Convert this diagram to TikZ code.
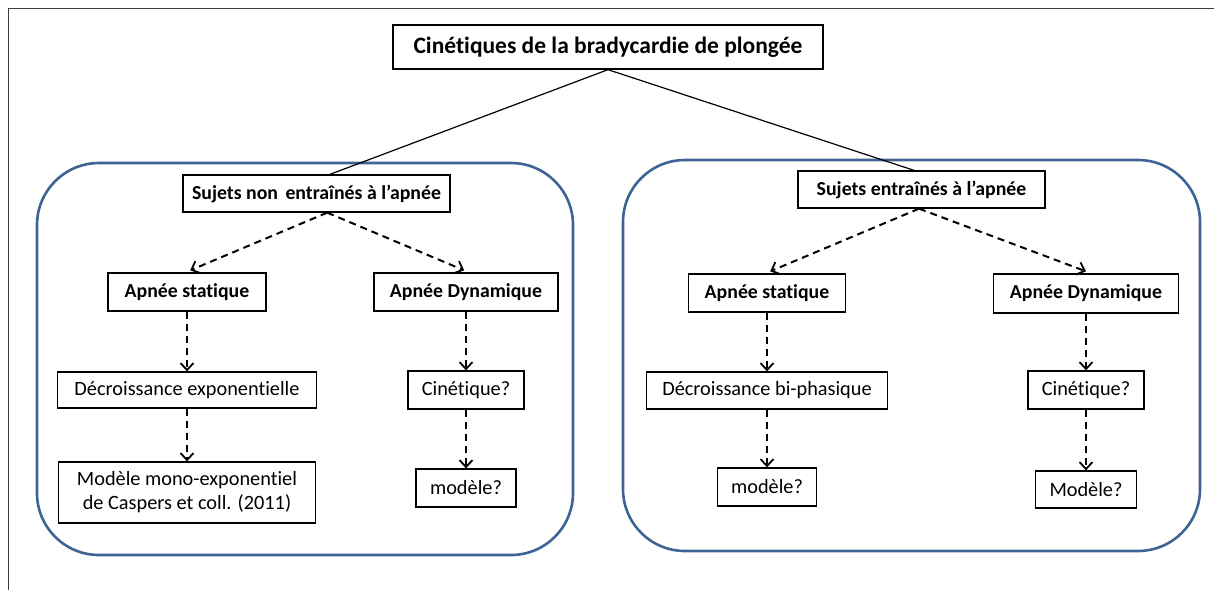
\documentclass[tikz,border=0pt]{standalone}
\usepackage{fontspec}
\setmainfont{Carlito}[Ligatures=NoCommon]
\usetikzlibrary{arrows.meta,calc}
\definecolor{groupblue}{RGB}{62,100,150}
\definecolor{framegray}{RGB}{60,60,60}
\tikzset{
  box/.style={draw=black, line width=1.3pt, fill=white, inner sep=0pt, align=center, font=\fontsize{20.3}{24}\selectfont},
  boldbox/.style={box, font=\fontsize{19.8}{24}\selectfont\bfseries},
  group/.style={draw=groupblue, line width=2.6pt, rounded corners=62pt},
  link/.style={draw=black, line width=1.2pt},
  dasharrow/.style={draw=black, line width=2pt, dash pattern=on 7pt off 5pt, -{Straight Barb[length=7pt,width=13pt,line width=1.8pt]}},
}
\begin{document}
\begin{tikzpicture}[x=1pt,y=-1pt]
\useasboundingbox (0,0) rectangle (1214,590);
% page frame
\draw[framegray, line width=1pt] (8,590) -- (8,8) -- (1214,8);
% group frames
\draw[group] (37,163) rectangle (573,555);
\draw[group] (623,160) rectangle (1200,551);
% title
\node[box, font=\fontsize{23.5}{28}\selectfont\bfseries, minimum width=430pt, minimum height=44pt] (title) at (608,47) {Cinétiques de la bradycardie de plongée};
% left group
\node[boldbox, minimum width=267pt, minimum height=37pt] (sL) at (316.5,193.5) {Sujets non\hspace{3pt} entraînés à l’apnée};
\node[boldbox, minimum width=158pt, minimum height=38pt] (asL) at (187,292) {Apnée statique};
\node[boldbox, minimum width=184pt, minimum height=38pt] (adL) at (466,292) {Apnée Dynamique};
\node[box, minimum width=259pt, minimum height=36pt] (deL) at (187,390) {Décroissance exponentielle};
\node[box, minimum width=257pt, minimum height=61pt] (moL) at (187,492.5) {Modèle mono-exponentiel\\de Caspers et coll. (2011)};
\node[box, minimum width=116pt, minimum height=38pt] (ciL) at (466,390) {Cinétique?};
\node[box, minimum width=100pt, minimum height=38pt] (mdL) at (466,488) {modèle?};
% right group
\node[boldbox, minimum width=247pt, minimum height=37pt] (sR) at (921.5,189.5) {Sujets entraînés à l’apnée};
\node[boldbox, minimum width=157pt, minimum height=38pt] (asR) at (767,293) {Apnée statique};
\node[boldbox, minimum width=185pt, minimum height=39pt] (adR) at (1086,293.5) {Apnée Dynamique};
\node[box, minimum width=241pt, minimum height=37pt] (deR) at (767,390.5) {Décroissance bi-phasique};
\node[box, minimum width=99pt, minimum height=38pt] (mdR) at (767,487) {modèle?};
\node[box, minimum width=116pt, minimum height=38pt] (ciR) at (1086,390) {Cinétique?};
\node[box, minimum width=101pt, minimum height=37pt] (moR) at (1086,489.5) {Modèle?};
% solid links from title
\draw[link] (title.south) -- ($(sL.north west)!0.55!(sL.north east)$);
\draw[link] (title.south) -- ($(sR.north west)!0.47!(sR.north east)$);
% dashed arrows, left
\draw[dasharrow] ($(sL.south west)!0.54!(sL.south east)$) -- ($(asL.north west)!0.52!(asL.north east)+(0,-2)$);
\draw[dasharrow] ($(sL.south west)!0.54!(sL.south east)$) -- ($(adL.north west)!0.49!(adL.north east)+(0,-2)$);
\draw[dasharrow] (asL.south) -- (deL.north);
\draw[dasharrow] (deL.south) -- (moL.north);
\draw[dasharrow] (adL.south) -- (ciL.north);
\draw[dasharrow] (ciL.south) -- (mdL.north);
% dashed arrows, right
\draw[dasharrow] ($(sR.south west)!0.49!(sR.south east)$) -- ($(asR.north west)!0.52!(asR.north east)+(0,-2)$);
\draw[dasharrow] ($(sR.south west)!0.49!(sR.south east)$) -- ($(adR.north west)!0.50!(adR.north east)+(0,-2)$);
\draw[dasharrow] (asR.south) -- (deR.north);
\draw[dasharrow] (deR.south) -- (mdR.north);
\draw[dasharrow] (adR.south) -- (ciR.north);
\draw[dasharrow] (ciR.south) -- (moR.north);
\end{tikzpicture}
\end{document}
